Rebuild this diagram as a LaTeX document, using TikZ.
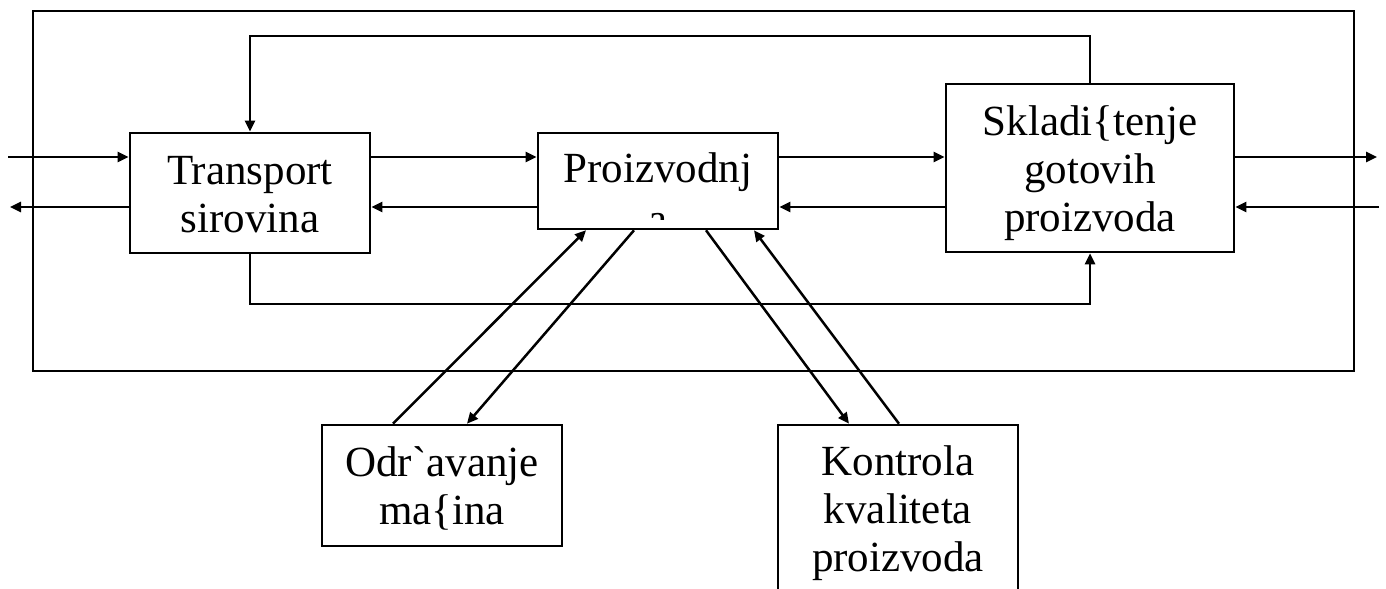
\documentclass[tikz,border=0pt]{standalone}
\usepackage{fontspec}
\newfontfamily\tnr{Liberation Serif}
\usetikzlibrary{arrows.meta}
\begin{document}
\begin{tikzpicture}[x=1bp,y=-1bp,
  >={Triangle[length=11bp,width=10bp]},
  txt/.style={font=\tnr\fontsize{43bp}{48bp}\selectfont, inner sep=0pt, align=center},
  box/.style={draw, line width=2.6bp, inner sep=0pt},
  conn/.style={line width=2.5bp}]
\clip (0,0) rectangle (1386,589);
\useasboundingbox (0,0) rectangle (1386,589);
% frame
\node[box, minimum width=1321bp, minimum height=360bp] (frame) at (693.5,191) {};
% boxes
\node[box, minimum width=240bp, minimum height=120bp] (tr) at (250,193) {};
\node[box, minimum width=240bp, minimum height=96bp] (pr) at (658,181) {};
\node[box, minimum width=288bp, minimum height=168bp] (sk) at (1090,168) {};
\node[box, minimum width=240bp, minimum height=121bp] (od) at (442,485.5) {};
\node[box, minimum width=240bp, minimum height=168bp] (ko) at (898,509) {};
% texts
\node[txt] (trt) at ([yshift=-2bp]tr.center) {Transport\\sirovina};
\node[txt] (skt) at ([yshift=-5bp]sk.center) {Skladi\{tenje\\gotovih\\proizvoda};
\node[txt] (odt) at ([yshift=-3bp]od.center) {Odr`avanje\\ma\{ina};
\node[txt] (kot) at ([yshift=-4bp]ko.center) {Kontrola\\kvaliteta\\proizvoda};
\begin{scope}
  \clip (pr.north west) rectangle (778,219);
  \node[txt, anchor=base] (prt1) at (658,183) {Proizvodnj};
  \node[txt, anchor=base] (prt2) at (658,233) {a};
\end{scope}
% free ends
\coordinate (inL) at (8,157);
\coordinate (outL) at (10,207);
\coordinate (outR) at (1377,157);
\coordinate (inR) at (1379,207);
\coordinate (topy) at (0,36);
\coordinate (boty) at (0,304);
% horizontal flows
\draw[conn,->] (inL) -- (inL -| tr.west);
\draw[conn,->] (tr.west |- outL) -- (outL);
\draw[conn,->] (tr.east |- inL) -- (pr.west |- inL);
\draw[conn,->] (pr.west |- outL) -- (tr.east |- outL);
\draw[conn,->] (pr.east |- inL) -- (sk.west |- inL);
\draw[conn,->] (sk.west |- outL) -- (pr.east |- outL);
\draw[conn,->] (sk.east |- inL) -- (outR);
\draw[conn,->] (inR) -- (sk.east |- inR);
% feedback loops
\draw[conn,->] (sk.north) -- (sk.north |- topy) -- (tr.north |- topy) -- (tr.north);
\draw[conn,->] (tr.south) -- (tr.south |- boty) -- (sk.south |- boty) -- (sk.south);
% diagonals
\draw[conn,->] ([xshift=-49bp]od.north) -- ([xshift=-72bp]pr.south);
\draw[conn,->] ([xshift=-24bp]pr.south) -- ([xshift=25bp]od.north);
\draw[conn,->] ([xshift=48bp]pr.south) -- ([xshift=-49bp]ko.north);
\draw[conn,->] ([xshift=1bp]ko.north) -- ([xshift=96bp]pr.south);
\end{tikzpicture}
\end{document}
